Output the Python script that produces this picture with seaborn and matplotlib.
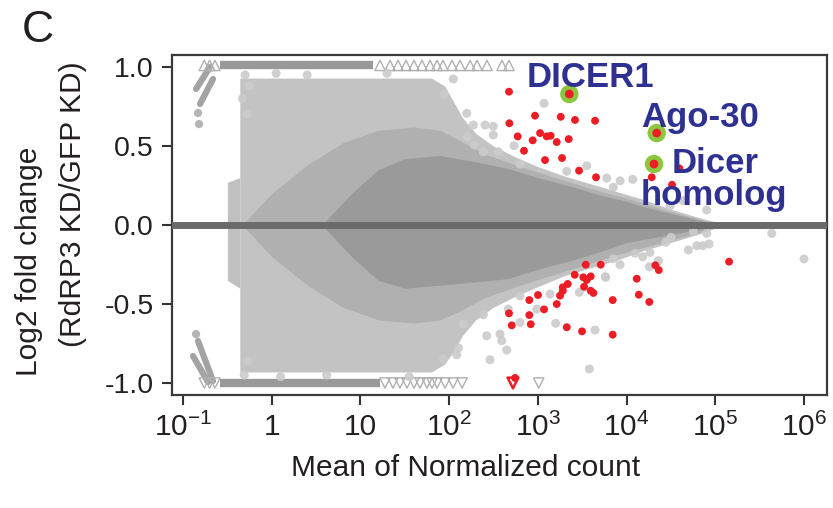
import numpy as np
import pandas as pd
import matplotlib
matplotlib.use("Agg")
import matplotlib.pyplot as plt
import seaborn as sns

# ---------------- data (log10 mean count, log2 fold change) ----------------
# red (significant) genes
red_up_logx = [2.675, 2.968, 3.258, 3.419, 3.645, 2.679, 2.773, 3.025, 3.100, 3.145, 2.942,
               3.213, 3.348, 2.844, 3.081, 3.273, 3.465, 3.656, 4.595, 4.284, 4.513]
red_up_lfc = [0.844, 0.692, 0.685, 0.665, 0.660, 0.644, 0.561, 0.582, 0.561, 0.565, 0.536,
              0.525, 0.544, 0.470, 0.411, 0.424, 0.344, 0.302, 0.359, 0.302, 0.255]
red_dn_logx = [3.540, 3.709, 3.416, 3.513, 3.596, 3.551, 4.115, 3.337, 3.281, 3.521, 3.596,
               3.626, 4.138, 3.281, 3.250, 3.002, 2.904, 3.213, 3.844, 3.070, 2.675, 2.904,
               2.706, 2.920, 3.326, 3.498, 3.844, 4.325, 4.363, 5.156, 4.257, 2.743]
red_dn_lfc = [-0.251, -0.251, -0.315, -0.331, -0.325, -0.348, -0.340, -0.373, -0.394, -0.391,
              -0.416, -0.430, -0.441, -0.416, -0.447, -0.443, -0.475, -0.500, -0.475, -0.534,
              -0.559, -0.570, -0.635, -0.628, -0.647, -0.673, -0.694, -0.255, -0.285, -0.232,
              -0.487, -0.968]
red_clip_logx = [2.72]

# highlighted genes
hl_names = ["DICER1", "Ago-30", "Dicer", "homolog"]
hl_logx = [3.355, 4.340, 4.310]
hl_lfc = [0.829, 0.582, 0.386]

# sparse grey genes at the fringe of the cloud
grey_logx = [2.047, 1.943, 2.198, 2.273, 2.405, 2.498, 2.498, 2.205, 2.284, 2.386, 2.555, 2.732,
             3.070, 2.799, 3.326, 3.551, 3.777, 3.927, 4.070, 3.851, 4.904, 4.637, 4.490,
             5.637, 4.904, 4.697, 6.001, 4.791, 2.386, 2.160, 2.424, 2.574, 2.593, 2.649,
             2.461, 1.935, 2.086, 2.104, 2.799, 3.202, 3.645, 3.581, 3.765, 3.927, 3.851,
             4.096, 3.138, 3.468, 2.799, 2.667, 2.988, 4.183, 4.265, 4.257, 4.359, 4.442,
             4.859, 4.930, 4.502, 4.753, 3.761, -0.30, -0.25, -0.33, -0.28, 0.05, 0.40,
             -0.31, -0.27, 0.10, 0.62, 1.30, 1.55]
grey_lfc = [0.924, 0.825, 0.707, 0.633, 0.633, 0.625, 0.570, 0.559, 0.506, 0.464, 0.464, 0.502,
            0.770, 0.386, 0.340, 0.375, 0.297, 0.280, 0.289, 0.239, 0.095, 0.154, 0.122,
            -0.053, -0.053, -0.158, -0.215, -0.131, -0.568, -0.627, -0.701, -0.690, -0.732,
            -0.791, -0.853, -0.848, -0.821, -0.778, -0.616, -0.622, -0.665, -0.911, -0.331,
            -0.251, -0.213, -0.179, -0.437, -0.426, -0.449, -0.532, -0.532, -0.201, -0.173,
            -0.264, -0.226, -0.109, -0.131, -0.120, -0.078, -0.040, -0.327, 0.95, 0.88,
            0.80, 0.70, 0.96, 0.95, -0.95, -0.86, -0.96, -0.95, 0.96, -0.96]

# cloud envelopes: log10 count with upper / lower log2 FC of each density level
outer_logx = [-0.36, 0.5, 1.2, 1.8, 1.95, 2.05, 2.15, 2.3, 2.5, 2.75, 3.0, 3.3, 3.6, 3.9,
              4.2, 4.5, 4.8, 5.0]
outer_hi = [0.93, 0.93, 0.93, 0.93, 0.88, 0.78, 0.68, 0.58, 0.50, 0.43, 0.37, 0.31, 0.26,
            0.21, 0.16, 0.10, 0.05, 0.02]
outer_lo = [-0.93, -0.93, -0.93, -0.93, -0.88, -0.80, -0.70, -0.60, -0.52, -0.45, -0.39,
            -0.32, -0.27, -0.22, -0.16, -0.11, -0.06, -0.02]
mid_logx = [-0.30, 0.0, 0.4, 0.8, 1.2, 1.6, 1.9, 2.1, 2.4, 2.8, 3.2, 3.6, 4.0, 4.4, 4.8, 5.0]
mid_hi = [0.02, 0.20, 0.38, 0.52, 0.60, 0.62, 0.60, 0.54, 0.45, 0.37, 0.30, 0.23, 0.17,
          0.10, 0.04, 0.01]
mid_lo = [-0.02, -0.20, -0.38, -0.52, -0.60, -0.62, -0.60, -0.55, -0.46, -0.38, -0.31,
          -0.24, -0.17, -0.11, -0.05, -0.01]
core_logx = [0.6, 0.9, 1.2, 1.5, 1.9, 2.3, 2.65, 3.0, 3.4, 3.7, 4.0, 4.3, 4.6, 4.9]
core_hi = [0.02, 0.20, 0.35, 0.42, 0.44, 0.40, 0.36, 0.30, 0.24, 0.19, 0.15, 0.10, 0.06, 0.02]
core_lo = [-0.02, -0.20, -0.35, -0.40, -0.38, -0.36, -0.34, -0.28, -0.22, -0.17, -0.11,
           -0.08, -0.05, -0.02]
strip_logx = [-0.50, -0.36]
strip_hi = [0.27, 0.30]
strip_lo = [-0.35, -0.40]

# clipped genes (|LFC| > 1) drawn as triangles at +/-1
top_band = [-0.58, 1.14]
bot_band = [-0.58, 1.22]
top_tri_logx = [-0.76, -0.70, -0.64, 1.221, 1.334, 1.424, 1.514, 1.604, 1.694, 1.785, 1.864,
                1.931, 2.033, 2.123, 2.236, 2.315, 2.427, 2.596, 2.675]
bot_tri_logx = [-0.76, -0.70, -0.64, 1.277, 1.367, 1.446, 1.525, 1.604, 1.672, 1.751, 1.807,
                1.864, 1.954, 2.044, 2.146, 3.01]

# low-count artefact streaks (start/end in log10 count, LFC)
streaks = [((-0.696, 1.0), (-0.853, 0.861)),
           ((-0.662, 0.924), (-0.808, 0.766)),
           ((-0.831, -0.734), (-0.662, -0.987)),
           ((-0.887, -0.829), (-0.718, -0.994))]
streak_dot_logx = [-0.831, -0.820, -0.853]
streak_dot_lfc = [0.709, 0.639, -0.69]

x_ticks = [0.1, 1, 10, 1e2, 1e3, 1e4, 1e5, 1e6]
x_ticklabels = ["$10^{-1}$", "1", "10", "$10^{2}$", "$10^{3}$", "$10^{4}$", "$10^{5}$", "$10^{6}$"]
y_ticks = [-1.0, -0.5, 0.0, 0.5, 1.0]
y_ticklabels = ["-1.0", "-0.5", "0.0", "0.5", "1.0"]

# ---------------- style ----------------
sns.set_theme(style="white")
plt.rcParams["font.family"] = ["Liberation Sans", "DejaVu Sans"]
plt.rcParams["mathtext.fontset"] = "custom"
plt.rcParams["mathtext.rm"] = "Liberation Sans"
plt.rcParams["mathtext.it"] = "Liberation Sans"
plt.rcParams["axes.unicode_minus"] = False

TXT = "#231f20"
GREY_PT = "#a3a3a3"
RED = "#ee1c25"
GREEN = "#8cc63f"
BLUE = "#2e3192"

fig = plt.figure(figsize=(8.33, 5.08), dpi=100)
ax = fig.add_axes([0.2065, 0.2224, 0.7863, 0.6693])
ax.set_xscale("log")

p = lambda v: np.power(10.0, np.asarray(v, dtype=float))

# cloud layers
ax.fill_between(p(outer_logx), outer_lo, outer_hi, color="#c3c3c3", lw=0, zorder=1)
ax.fill_between(p(strip_logx), strip_lo, strip_hi, color="#c0c0c0", lw=0, zorder=1)
ax.fill_between(p(mid_logx), mid_lo, mid_hi, color="#b0b0b0", lw=0, zorder=1.1)
ax.fill_between(p(core_logx), core_lo, core_hi, color="#9a9a9a", lw=0, zorder=1.2)

# streaks
for (a, b) in streaks:
    ax.plot(p([a[0], b[0]]), [a[1], b[1]], color=GREY_PT, lw=4.5, solid_capstyle="round", zorder=2)
sns.scatterplot(x=p(streak_dot_logx), y=streak_dot_lfc, ax=ax, color=GREY_PT, s=35,
                edgecolor="none", alpha=0.8, zorder=2, legend=False)

# clipped bands and triangles
ax.plot(p(top_band), [1.01, 1.01], color="#999999", lw=6, solid_capstyle="butt", zorder=2)
ax.plot(p(bot_band), [-1.0, -1.0], color="#999999", lw=6, solid_capstyle="butt", zorder=2)
ax.scatter(p(top_tri_logx), [1.01] * len(top_tri_logx), marker="^", s=55, facecolor="none",
           edgecolor="#b0b0b0", linewidth=1.0, zorder=2)
ax.scatter(p(bot_tri_logx), [-1.0] * len(bot_tri_logx), marker="v", s=55, facecolor="none",
           edgecolor="#b0b0b0", linewidth=1.0, zorder=2)

# sparse grey genes
grey_df = pd.DataFrame({"count": p(grey_logx), "lfc": grey_lfc})
sns.scatterplot(data=grey_df, x="count", y="lfc", ax=ax, color="#cbcbcb", s=42,
                edgecolor="none", alpha=0.9, zorder=2, legend=False)

# zero line
ax.axhline(0.0, color="#6b6b6b", lw=5, zorder=3)

# red genes
red_df = pd.DataFrame({"count": p(red_up_logx + red_dn_logx), "lfc": red_up_lfc + red_dn_lfc})
sns.scatterplot(data=red_df, x="count", y="lfc", ax=ax, color=RED, s=32,
                edgecolor="none", zorder=5, legend=False)
ax.scatter(p(red_clip_logx), [-1.0], marker="v", s=60, facecolor="none", edgecolor=RED,
           linewidth=1.8, zorder=5)

# highlighted genes
hl_df = pd.DataFrame({"count": p(hl_logx), "lfc": hl_lfc})
sns.scatterplot(data=hl_df, x="count", y="lfc", ax=ax, color=GREEN, s=175,
                edgecolor="none", zorder=6, legend=False)
sns.scatterplot(data=hl_df, x="count", y="lfc", ax=ax, color=RED, s=40,
                edgecolor="none", zorder=7, legend=False)

# gene labels
lab_kw = dict(color=BLUE, fontsize=25, fontweight="bold", zorder=8, ha="left", va="baseline")
ax.text(p(hl_logx[0] - 0.477), hl_lfc[0] + 0.044, hl_names[0], **lab_kw)
ax.text(p(hl_logx[1] - 0.177), hl_lfc[1] + 0.04, hl_names[1], **lab_kw)
ax.text(p(hl_logx[2] + 0.203), hl_lfc[2] - 0.055, hl_names[2], **lab_kw)
ax.text(p(hl_logx[2] - 0.147), hl_lfc[2] - 0.262, hl_names[3], **lab_kw)

# axes
ax.set_xlim(10 ** -1.124, 10 ** 6.26)
ax.set_ylim(-1.076, 1.076)
ax.set_xticks(x_ticks)
ax.set_xticklabels(x_ticklabels)
ax.xaxis.set_minor_locator(matplotlib.ticker.NullLocator())
ax.set_yticks(y_ticks)
ax.set_yticklabels(y_ticklabels)
ax.tick_params(axis="both", which="major", direction="out", length=7, width=1.5,
               color="#333333", labelcolor=TXT)
ax.tick_params(axis="x", labelsize=21.5, pad=6)
ax.tick_params(axis="y", labelsize=20.5, pad=6)
ax.tick_params(left=True, bottom=True)
for sp in ax.spines.values():
    sp.set_visible(True)
    sp.set_color("#3a3a3a")
    sp.set_linewidth(1.6)
ax.set_xlabel("")
ax.set_ylabel("")

fig.text(0.5585, 0.078, "Mean of Normalized count", ha="center", va="center",
         fontsize=21.5, color=TXT)
fig.text(0.0350, 0.486, "Log2 fold change", ha="center", va="center", rotation=90,
         fontsize=21.5, color=TXT)
fig.text(0.0880, 0.598, "(RdRP3 KD/GFP KD)", ha="center", va="center", rotation=90,
         fontsize=21.5, color=TXT)
fig.text(0.026, 0.917, "C", ha="left", va="baseline", fontsize=32, color=TXT)

fig.savefig("out.png", dpi=100, facecolor="white")
